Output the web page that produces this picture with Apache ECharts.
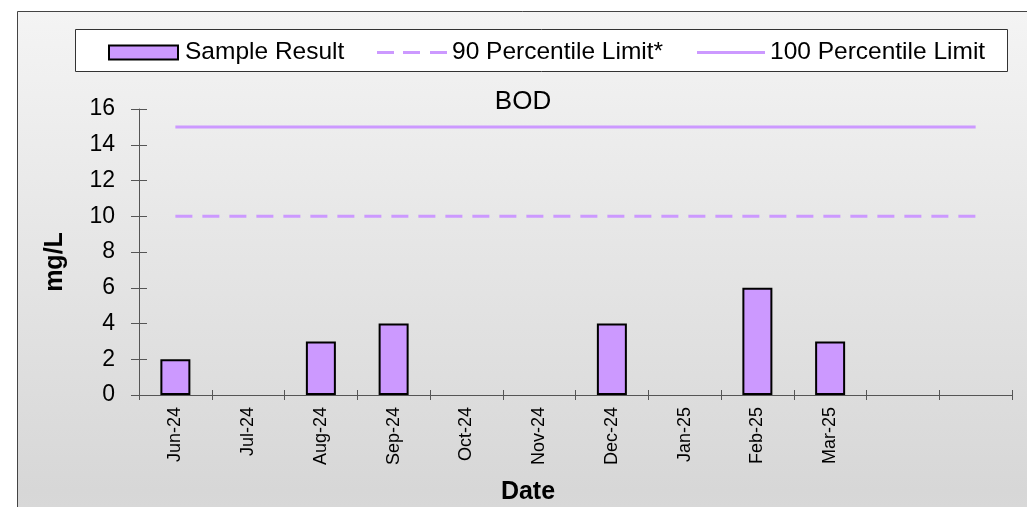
<!DOCTYPE html>
<html>
<head>
<meta charset="utf-8">
<script src="https://cdn.jsdelivr.net/npm/echarts@6/dist/echarts.min.js"></script>
<style>html,body{margin:0;padding:0;background:#fff;}#c{width:1027px;height:507px;}</style>
</head>
<body>
<div id="c"></div>
<script>
var categories = ['Jun-24','Jul-24','Aug-24','Sep-24','Oct-24','Nov-24','Dec-24','Jan-25','Feb-25','Mar-25','',''];
var sampleResult = [2, null, 3, 4, null, null, 4, null, 6, 3, null, null];
var limit90 = [10,10,10,10,10,10,10,10,10,10,10,10];
var limit100 = [15,15,15,15,15,15,15,15,15,15,15,15];
var yTicks = {min: 0, max: 16, interval: 2};

var FONT = '"Liberation Sans", Arial, sans-serif';
var PURPLE = '#cc99ff';
var AXIS = '#555555';

var chart = echarts.init(document.getElementById('c'), null, {renderer: 'canvas'});
chart.setOption({
  animation: false,
  textStyle: {fontFamily: FONT},
  graphic: [
    {type: 'rect', z: -10, shape: {x: 17.5, y: 11.5, width: 1100, height: 600},
     style: {fill: new echarts.graphic.LinearGradient(0, 0, 0, 1, [
        {offset: 0, color: '#f4f4f4'}, {offset: 0.8, color: '#d7d7d7'}, {offset: 1, color: '#dfdfdf'}]),
        stroke: '#444', lineWidth: 1}},
    {type: 'rect', z: 1, shape: {x: 75.5, y: 29.5, width: 932, height: 42},
     style: {fill: '#ffffff', stroke: '#333', lineWidth: 1}},
    {type: 'text', z: 5, x: 528, y: 492,
     style: {text: 'Date', font: 'bold 25px ' + FONT, fill: '#000', textAlign: 'center', textVerticalAlign: 'middle'}},
    {type: 'text', z: 5, x: 55, y: 262, rotation: Math.PI / 2,
     style: {text: 'mg/L', font: 'bold 25px ' + FONT, fill: '#000', textAlign: 'center', textVerticalAlign: 'middle'}}
  ],
  title: {text: 'BOD', left: 518, top: 84, textAlign: 'center',
    textStyle: {fontFamily: FONT, fontSize: 26, fontWeight: 'normal', color: '#000'}},
  legend: [
    {data: [{name: 'Sample Result', icon: 'rect', itemStyle: {color: PURPLE, borderColor: '#000', borderWidth: 2}}],
     left: 108, top: 40, padding: 0, itemWidth: 69, itemHeight: 14, itemGap: 9, z: 10,
     textStyle: {fontFamily: FONT, fontSize: 24.5, color: '#000', padding: [0,0,0,2]}},
    {data: [{name: '90 Percentile Limit*', icon: 'path://M0,0h17v3h-17z M26,0h17v3h-17z M53,0h17v3h-17z', itemStyle: {color: PURPLE}}],
     left: 377, top: 40, padding: 0, itemWidth: 70, itemHeight: 3, z: 10,
     textStyle: {fontFamily: FONT, fontSize: 24.5, color: '#000'}},
    {data: [{name: '100 Percentile Limit', icon: 'rect', itemStyle: {color: PURPLE}}],
     left: 697, top: 40, padding: 0, itemWidth: 68, itemHeight: 3, z: 10,
     textStyle: {fontFamily: FONT, fontSize: 24.5, color: '#000'}}
  ],
  grid: {left: 139, top: 109, right: 15, bottom: 112, outerBoundsMode: 'none', containLabel: false},
  xAxis: [
    {type: 'category', data: categories, boundaryGap: true,
     axisLine: {lineStyle: {color: AXIS, width: 1}},
     axisTick: {show: true, inside: false, length: 5, interval: 0, lineStyle: {color: AXIS}},
     axisLabel: {rotate: 90, interval: 0, margin: 12, fontFamily: FONT, fontSize: 18, color: '#000'},
     splitLine: {show: false}},
    {type: 'category', data: categories, boundaryGap: true, position: 'bottom',
     axisLine: {show: false},
     axisTick: {show: true, inside: true, length: 5, interval: 0, lineStyle: {color: AXIS}},
     axisLabel: {show: false}, splitLine: {show: false}}
  ],
  yAxis: [
    {type: 'value', min: yTicks.min, max: yTicks.max, interval: yTicks.interval,
     axisLine: {show: true, lineStyle: {color: AXIS, width: 1}},
     axisTick: {show: true, inside: false, length: 8, lineStyle: {color: AXIS}},
     axisLabel: {margin: 24, fontFamily: FONT, fontSize: 23, color: '#000'},
     splitLine: {show: false}},
    {type: 'value', min: yTicks.min, max: yTicks.max, interval: yTicks.interval, position: 'left',
     axisLine: {show: false},
     axisTick: {show: true, inside: true, length: 8, lineStyle: {color: AXIS}},
     axisLabel: {show: false}, splitLine: {show: false}}
  ],
  series: [
    {name: 'Sample Result', type: 'bar', data: sampleResult, barWidth: 30, z: 3,
     itemStyle: {color: PURPLE, borderColor: '#000', borderWidth: 2}},
    {name: '90 Percentile Limit*', type: 'line', data: limit90, symbol: 'none', showSymbol: false, z: 2,
     lineStyle: {color: PURPLE, width: 3, type: [17, 10]}, itemStyle: {color: PURPLE}},
    {name: '100 Percentile Limit', type: 'line', data: limit100, symbol: 'none', showSymbol: false, z: 2,
     lineStyle: {color: PURPLE, width: 3, type: 'solid'}, itemStyle: {color: PURPLE}}
  ]
});
</script>
</body>
</html>
